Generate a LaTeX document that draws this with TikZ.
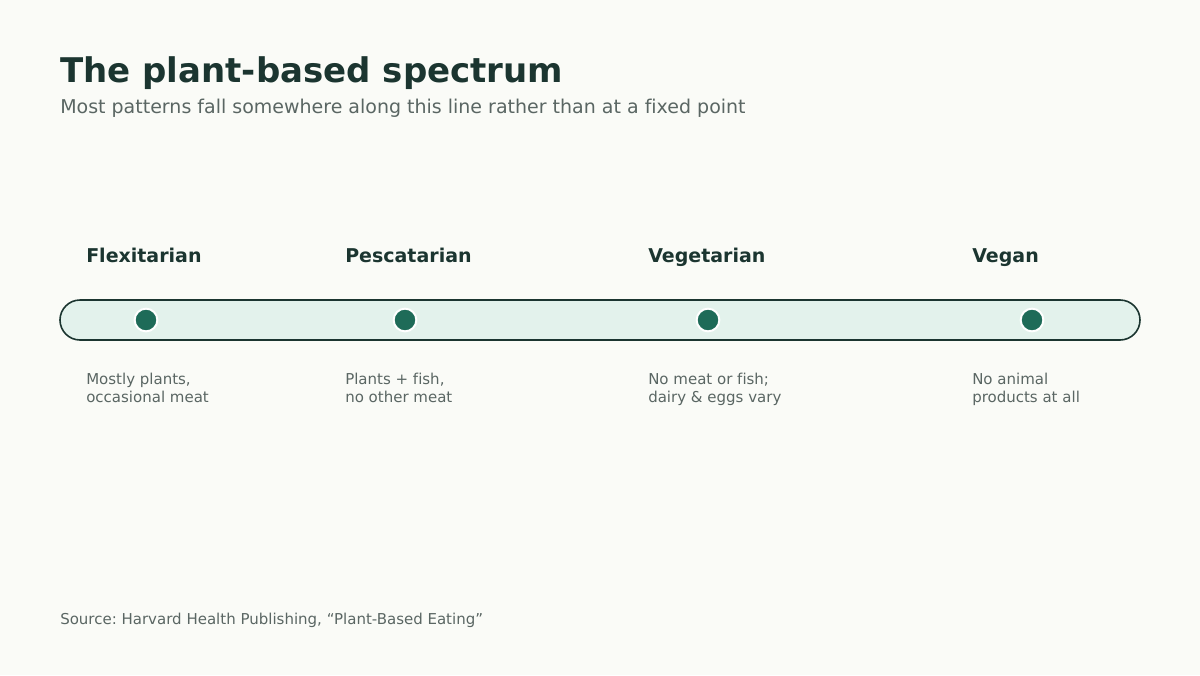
\documentclass[tikz,border=0pt]{standalone}
\usepackage{fontspec}
\setmainfont{DejaVu Sans}[Ligatures=NoCommon]
\usepackage{xcolor}
\usepackage{tikz}
\usetikzlibrary{calc}
\definecolor{bgpaper}{HTML}{FAFBF7}
\definecolor{inkdark}{HTML}{1B3530}
\definecolor{inkgray}{HTML}{5A6663}
\definecolor{barfill}{HTML}{E3F2EC}
\definecolor{dotgreen}{HTML}{1E6B58}
\frenchspacing

\begin{document}
\begin{tikzpicture}[x=0.75pt,y=-0.75pt,
    stagename/.style={anchor=base west, inner sep=0pt, text=inkdark, font=\fontsize{14.25}{17}\selectfont\bfseries},
    stagenote/.style={anchor=base west, inner sep=0pt, text=inkgray, align=left, font=\fontsize{11.25}{13.5}\selectfont},
    stagedot/.style={circle, fill=dotgreen, draw=white, line width=1.5pt, minimum size=17pt, inner sep=0pt}]
        %PAPER
        \fill[bgpaper] (0,0) rectangle (1200,675);
        \useasboundingbox (0,0) rectangle (1200,675);
        %TITLE
        \node[anchor=base west, inner sep=0pt, text=inkdark, font=\fontsize{25.5}{30}\selectfont\bfseries] (title) at (60,82) {The plant-based spectrum};
        \node[anchor=base west, inner sep=0pt, text=inkgray, font=\fontsize{14.25}{17}\selectfont] (subtitle) at (60,113) {Most patterns fall somewhere along this line rather than at a fixed point};
        %BAR
        \draw[inkdark, line width=1.2pt, fill=barfill, rounded corners=15pt] (60,300) rectangle (1140,340);
        %STAGES
        \foreach \name/\x/\label/\lineone/\linetwo in {flex/146/Flexitarian/{Mostly plants,}/{occasional meat},
                pesc/405/Pescatarian/{Plants + fish,}/{no other meat},
                vege/708/Vegetarian/{No meat or fish;}/{dairy \& eggs vary},
                vegan/1032/Vegan/{No animal}/{products at all}} {
            \node[stagedot] (\name) at (\x,320) {};
            \node[stagename] (\name-label) at ($(\name)+(-60,-58)$) {\label};
            \node[stagenote] (\name-note) at ($(\name)+(-60,82)$) {\lineone\\\linetwo};
        }
        %SOURCE
        \node[anchor=base west, inner sep=0pt, text=inkgray, font=\fontsize{11.25}{13.5}\selectfont] (source) at (60,624) {Source: Harvard Health Publishing, “Plant-Based Eating”};
    \end{tikzpicture}
\end{document}
